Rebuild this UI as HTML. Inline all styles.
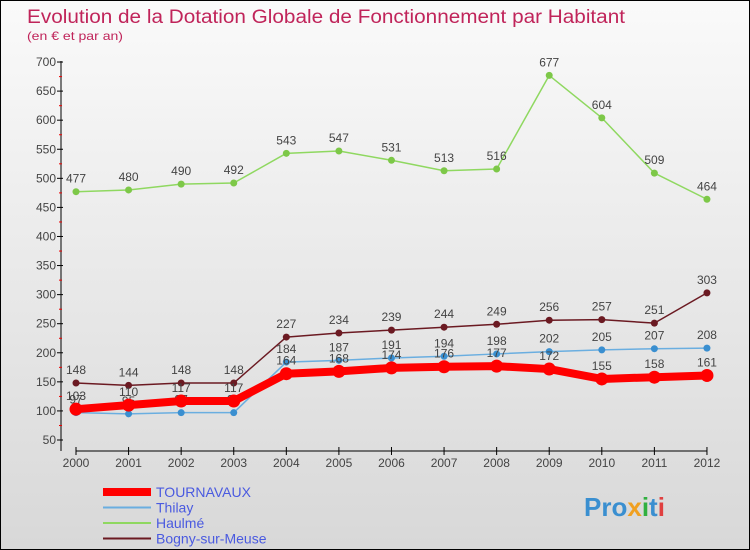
<!DOCTYPE html>
<html><head><meta charset="utf-8"><style>
body{margin:0}
#c{width:748px;height:548px;border:1px solid #000;position:relative;background:linear-gradient(#fafafa,#d8d8d8);font-family:"Liberation Sans",sans-serif;overflow:hidden}
</style></head><body>
<div id="c">
<svg id="s" width="748" height="548" xmlns="http://www.w3.org/2000/svg">
<text x="26" y="22" font-size="19" fill="#c0245a" textLength="598" lengthAdjust="spacingAndGlyphs">Evolution de la Dotation Globale de Fonctionnement par Habitant</text>
<text x="26" y="39" font-size="12" fill="#c0245a" textLength="96" lengthAdjust="spacingAndGlyphs">(en € et par an)</text>
<g id="axes"></g><g id="series"></g><g id="legend"></g>
<text x="583" y="515" font-size="26" font-weight="bold" fill="#3a8fd0">Pro<tspan fill="#f0a020">x</tspan><tspan fill="#30b040">i</tspan><tspan fill="#3a8fd0">t</tspan><tspan fill="#e04040">i</tspan></text>
</svg></div>
<script>
const years=[2000,2001,2002,2003,2004,2005,2006,2007,2008,2009,2010,2011,2012];
const yTicks=[50,100,150,200,250,300,350,400,450,500,550,600,650,700];
const tournavaux=[103,110,117,117,164,168,174,176,177,172,155,158,161];
const thilay=[97,95,97,97,184,187,191,194,198,202,205,207,208];
const haulme=[477,480,490,492,543,547,531,513,516,677,604,509,464];
const bogny=[148,144,148,148,227,234,239,244,249,256,257,251,303];
const NS="http://www.w3.org/2000/svg";
const X=i=>75+i*52.58, Y=v=>439-(v-50)*0.5815;
function mk(p,t,a){const e=document.createElementNS(NS,t);for(const k in a)e.setAttribute(k,a[k]);p.appendChild(e);return e;}
const ax=document.getElementById('axes');
let l=mk(ax,'line',{x1:60,y1:60,x2:60,y2:450,stroke:'#000'});

l=mk(ax,'line',{x1:75,y1:450,x2:706,y2:450,stroke:'#000'});

yTicks.forEach(v=>{const y=Y(v);mk(ax,'line',{x1:56,y1:y,x2:62,y2:y,stroke:'#000'});
if(v<700)mk(ax,'line',{x1:58,y1:y-14.5,x2:61,y2:y-14.5,stroke:'#e00'});
const t=mk(ax,'text',{x:55,y:y+4,'font-size':12,fill:'#444','text-anchor':'end'});t.textContent=v;
});
years.forEach((yr,i)=>{const x=X(i);mk(ax,'line',{x1:x,y1:446,x2:x,y2:454,stroke:'#000'});
const t=mk(ax,'text',{x:x,y:466,'font-size':12,fill:'#444','text-anchor':'middle'});t.textContent=yr;
});
const sg=document.getElementById('series');
function draw(d,col,w,r,name,pcol){const g=mk(sg,'g',{});

mk(g,'polyline',{points:d.map((v,i)=>X(i)+','+Y(v)).join(' '),fill:'none',stroke:col,'stroke-width':w,'stroke-linejoin':'round'});
d.forEach((v,i)=>{const c=mk(g,'circle',{cx:X(i),cy:Y(v),r:r,fill:pcol});

const t=mk(g,'text',{x:X(i),y:Y(v)-9,'font-size':12,fill:'#444','text-anchor':'middle'});t.textContent=v;
});}
draw(haulme,'#8fd860',1.5,3.5,'haulme','#7dc848');
draw(bogny,'#6b1a22',1.5,3.5,'bogny','#6b1a22');
draw(thilay,'#6aaee0',1.5,3.5,'thilay','#3a8fd0');
draw(tournavaux,'#ff0000',8,6.5,'tournavaux','#ff0000');
const lg=document.getElementById('legend');
const names=['TOURNAVAUX','Thilay','Haulmé','Bogny-sur-Meuse'],cols=['#ff0000','#6aaee0','#8fd860','#6b1a22'],ws=[8,2,2,2];
names.forEach((n,i)=>{const y=491+i*15.5;const g=mk(lg,'g',{});

mk(g,'line',{x1:102,y1:y,x2:150,y2:y,stroke:cols[i],'stroke-width':ws[i]});
const t=mk(g,'text',{x:155,y:y+5,'font-size':14,fill:'#4a5ae0'});t.textContent=n;});
</script></body></html>
